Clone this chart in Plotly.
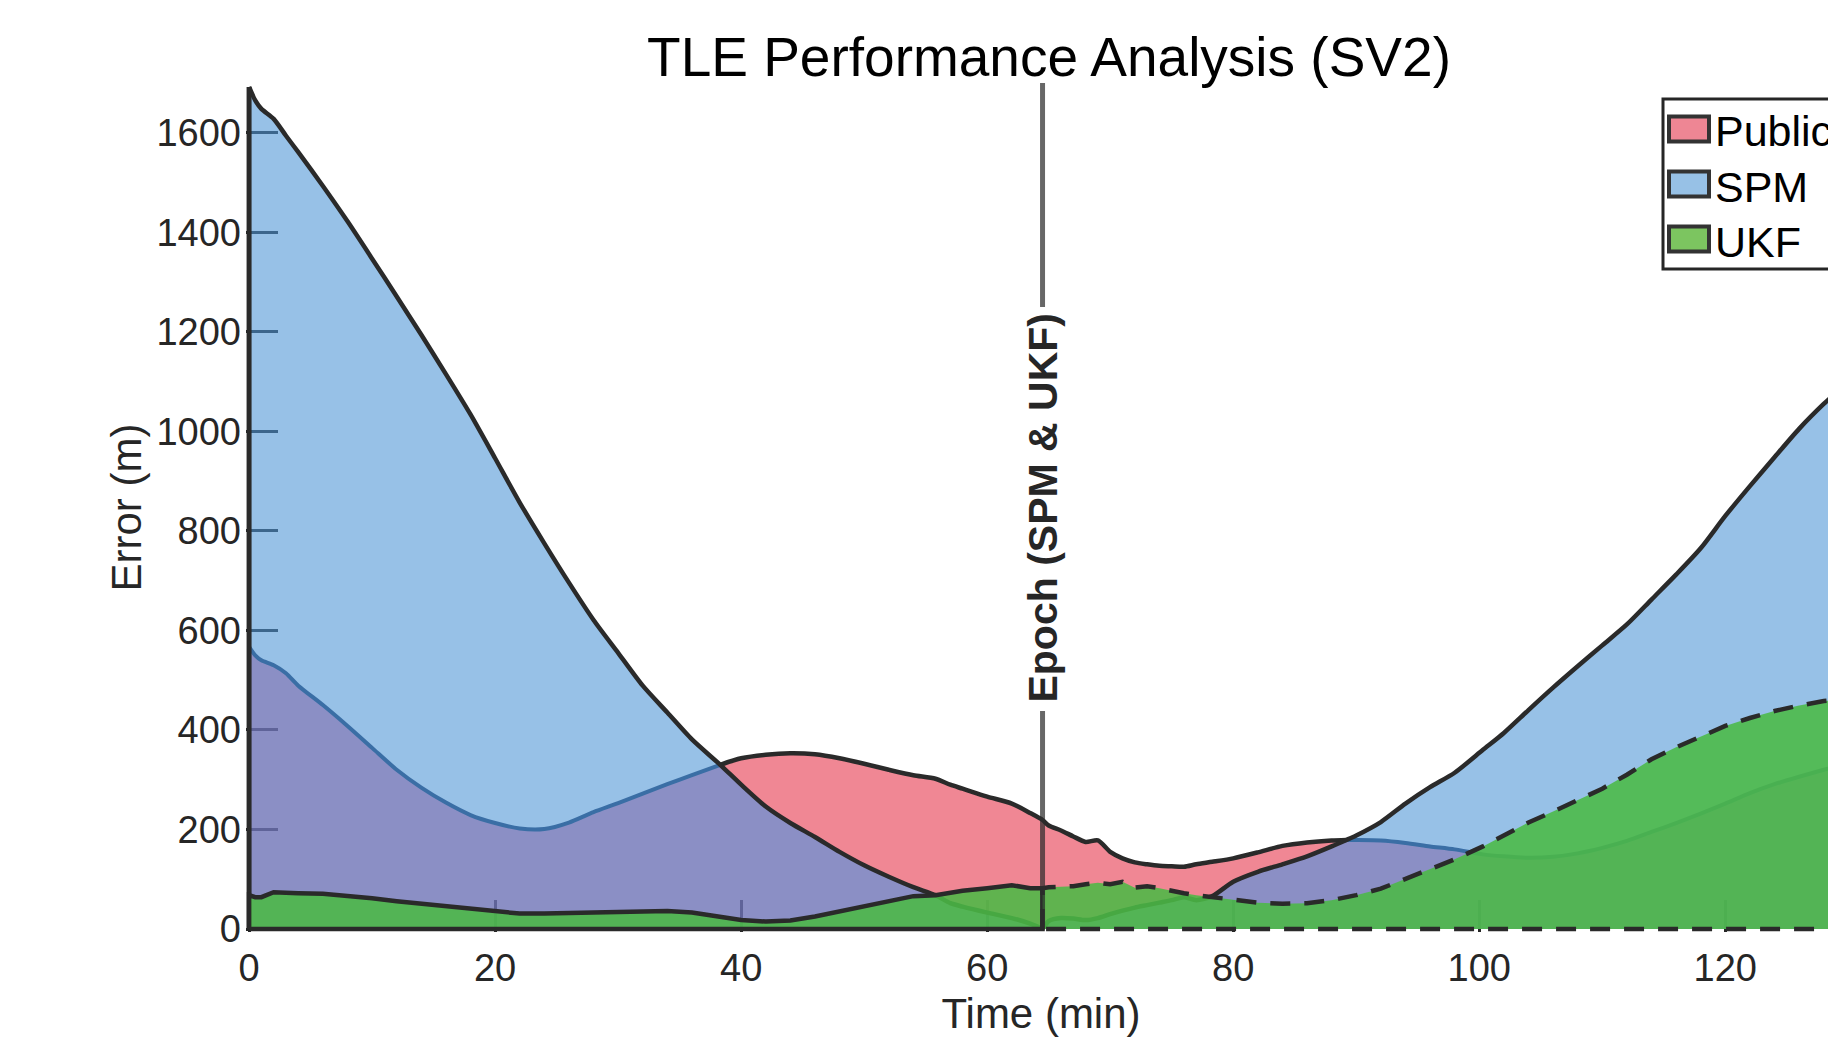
import numpy as np
import plotly.graph_objects as go

# ---------------- data ----------------
TIME = [0, 0.5, 1, 2, 3, 4, 6, 8, 10, 12, 14, 16, 18, 20, 22, 24, 26, 28, 30, 32,
        34, 36, 38.3, 40, 42, 44, 46, 48, 50, 52, 54, 55.8, 57, 58, 60, 62, 63.5, 64.5,
        65, 66, 67, 68, 69, 70, 71, 72, 73, 74, 75, 76, 77, 78.3, 80, 82, 84, 86, 88,
        89.2, 90, 92, 94, 96, 98, 100.3, 102, 104, 106, 108, 110, 112, 114, 116, 118,
        120, 122, 124, 126, 128, 130]
PUBLIC = [567, 550, 540, 530, 514, 489, 450, 408, 364, 320, 284, 254, 229, 213, 202, 201,
          214, 235, 253, 272, 291, 309, 330, 343, 350, 353, 351, 343, 332, 320, 309, 302,
          290, 282, 266, 252, 233, 219,
          208, 198, 186, 175, 178, 155, 142, 134, 130, 127, 126, 125, 130, 135, 142, 154,
          167, 174, 178, 179, 179, 178, 173, 166, 160, 150, 146, 143, 145, 152, 163, 177,
          195, 213, 232, 252, 273, 291, 306, 320, 333]
SPM = [1692, 1665, 1648, 1628, 1594, 1561, 1493, 1422, 1347, 1271, 1194, 1115, 1034, 946,
       857, 775, 696, 621, 555, 489, 435, 381, 330, 290, 246, 213, 185, 155, 128, 105, 84,
       68, 52, 45, 33, 22, 11, 2,
       16, 22, 21, 18, 22, 30, 37, 43, 48, 53, 58, 64, 58, 66, 95, 115, 130, 146, 166,
       179, 188, 215, 252, 285, 314, 360, 394, 440, 485, 528, 570, 612, 662, 712, 765,
       830, 890, 948, 1005, 1055, 1100]
UKF = [68, 64, 64, 74, 72, 72, 71, 67, 62, 56, 51, 46, 40, 34, 31, 31, 32, 34, 36, 37,
       36, 33, 24, 18, 15, 17, 25, 35, 46, 57, 66, 68, 73, 77, 82, 88, 82, 82,
       84, 85, 86, 90, 93, 90, 95, 83, 86, 82, 76, 72, 68, 64, 58, 53, 51, 52, 58,
       63, 68, 81, 100, 120, 140, 166, 189, 214, 236, 259, 282, 310, 341, 365, 386,
       408, 424, 438, 449, 458, 462]
EPOCH_MIN = 64.5
EPOCH_LABEL = "Epoch (SPM & UKF)"
X_TICKS = [0, 20, 40, 60, 80, 100, 120]
Y_TICKS = [0, 200, 400, 600, 800, 1000, 1200, 1400, 1600]
LEGEND_NAMES = ["Public", "SPM", "UKF"]

# ---------------- styling / geometry ----------------
OFF = 8                      # page body margin of the html page
W, H = 1836 - OFF, 1037 - OFF
ML, MR, MT, MB = 238, 0, 75, 105
X_RANGE = [-0.25, 129.0]
Y_RANGE = [-6, 1700]
FONT = "Liberation Sans, Arial, Helvetica, sans-serif"
INK = "#262626"
EDGE = "#2a2a2a"
DARK_BLUE_LINE = "#3a6ea5"
BLUE_FILL = "rgba(76,148,214,0.58)"
PURPLE_FILL = "rgba(110,115,183,0.80)"
PINK_FILL = "rgba(236,105,121,0.80)"
GREEN_FILL = "rgba(75,186,69,0.88)"
LEG_COLORS = ["#ee8694", "#97c1e6", "#7cc560"]
SMOOTH = dict(shape="spline", smoothing=0.7)

t = np.array(TIME, dtype=float)
p = np.array(PUBLIC, dtype=float)
s = np.array(SPM, dtype=float)
u = np.array(UKF, dtype=float)
m = np.minimum(p, s)          # overlap of Public and SPM areas

fig = go.Figure()
nol = dict(width=0, **SMOOTH)

# overlap region (purple)
fig.add_trace(go.Scatter(x=t, y=m, mode="lines", line=nol, fill="tozeroy",
                         fillcolor=PURPLE_FILL, hoverinfo="skip", showlegend=False))
# SPM only (blue)
fig.add_trace(go.Scatter(x=t, y=m, mode="lines", line=nol, hoverinfo="skip", showlegend=False))
fig.add_trace(go.Scatter(x=t, y=s, mode="lines", line=nol, fill="tonexty",
                         fillcolor=BLUE_FILL, name="SPM", showlegend=False))
# Public only (pink)
fig.add_trace(go.Scatter(x=t, y=m, mode="lines", line=nol, hoverinfo="skip", showlegend=False))
fig.add_trace(go.Scatter(x=t, y=p, mode="lines", line=nol, fill="tonexty",
                         fillcolor=PINK_FILL, name="Public", showlegend=False))

# Public edge: seen through the SPM face where it lies below SPM
p_under = np.where(p <= s, p, np.nan)
p_over = np.where(p >= s, p, np.nan)
fig.add_trace(go.Scatter(x=t, y=p_under, mode="lines",
                         line=dict(color=DARK_BLUE_LINE, width=4, **SMOOTH), showlegend=False))
fig.add_trace(go.Scatter(x=t, y=p_over, mode="lines",
                         line=dict(color=EDGE, width=4.5, **SMOOTH), showlegend=False))
# SPM edge and the left side of the area
fig.add_trace(go.Scatter(x=t, y=s, mode="lines",
                         line=dict(color=EDGE, width=4.5, **SMOOTH), showlegend=False))
fig.add_trace(go.Scatter(x=[t[0], t[0]], y=[0, s[0]], mode="lines",
                         line=dict(color=EDGE, width=5), showlegend=False))

# UKF before epoch (solid edge) and after epoch (dashed edge)
pre = t <= EPOCH_MIN
post = t >= EPOCH_MIN
tp, up = t[pre], u[pre]
fig.add_trace(go.Scatter(
    x=np.concatenate([[tp[0]], tp, [tp[-1], tp[0]]]),
    y=np.concatenate([[0], up, [0, 0]]),
    mode="lines", fill="toself", fillcolor=GREEN_FILL,
    line=dict(color=EDGE, width=4.5), name="UKF", showlegend=False))
tq, uq = t[post], u[post]
fig.add_trace(go.Scatter(
    x=np.concatenate([[tq[0]], tq, [tq[-1], tq[0]]]),
    y=np.concatenate([[0], uq, [0, 0]]),
    mode="lines", fill="toself", fillcolor=GREEN_FILL,
    line=dict(color=EDGE, width=4.5, dash="20px,14px"), showlegend=False))


def px_x(px):
    """screen pixel -> paper x"""
    return (px - OFF - ML) / (W - ML - MR)


def px_y(py):
    """screen pixel -> paper y"""
    return (H - MB - (py - OFF)) / (H - MT - MB)


shapes = []
ep_col = "rgba(45,45,45,0.72)"
shapes.append(dict(type="line", xref="x", yref="paper", x0=EPOCH_MIN, x1=EPOCH_MIN,
                   y0=px_y(307), y1=1, line=dict(color=ep_col, width=5), layer="above"))
shapes.append(dict(type="line", xref="x", yref="paper", x0=EPOCH_MIN, x1=EPOCH_MIN,
                   y0=px_y(929), y1=px_y(711), line=dict(color=ep_col, width=5), layer="above"))

annotations = [dict(x=EPOCH_MIN, xref="x", y=px_y(508), yref="paper", text=EPOCH_LABEL,
                    textangle=-90, showarrow=False, xanchor="center", yanchor="middle",
                    font=dict(family=FONT, size=41, color=INK, weight="bold"))]

# legend (box cut by the right edge as in the reference)
shapes.append(dict(type="rect", xref="paper", yref="paper", x0=px_x(1663), x1=px_x(1900),
                   y0=px_y(269), y1=px_y(99), line=dict(color=INK, width=3),
                   fillcolor="white", layer="above"))
for i, (name, col) in enumerate(zip(LEGEND_NAMES, LEG_COLORS)):
    yc = 129 + 55 * i
    shapes.append(dict(type="rect", xref="paper", yref="paper", x0=px_x(1669), x1=px_x(1709),
                       y0=px_y(yc + 12.5), y1=px_y(yc - 12.5),
                       line=dict(color="#333333", width=4), fillcolor=col, layer="above"))
    annotations.append(dict(x=px_x(1713), y=px_y(yc + 2.5), xref="paper", yref="paper",
                            text=name, showarrow=False, xanchor="left", yanchor="middle",
                            font=dict(family=FONT, size=43, color="black")))

axis_common = dict(showgrid=False, zeroline=False, showline=False, ticks="inside",
                   ticklen=32, tickwidth=3, tickcolor=INK, layer="below traces",
                   tickfont=dict(family=FONT, size=38, color=INK), automargin=False)

fig.update_layout(
    width=W, height=H, autosize=False,
    margin=dict(l=ML, r=MR, t=MT, b=MB, pad=0),
    paper_bgcolor="white", plot_bgcolor="white",
    showlegend=False,
    title=dict(text="TLE Performance Analysis (SV2)", x=(1049 - OFF) / W, xref="container",
               xanchor="center", y=1 - (56.6 - OFF) / H, yref="container", yanchor="middle",
               font=dict(family=FONT, size=55, color="black")),
    xaxis=dict(range=X_RANGE, tickvals=X_TICKS, ticklabelstandoff=10,
               title=dict(text="Time (min)", standoff=12,
                          font=dict(family=FONT, size=42, color=INK)),
               **axis_common),
    yaxis=dict(range=Y_RANGE, tickvals=Y_TICKS, ticklabelstandoff=4,
               title=dict(text="Error (m)", standoff=1,
                          font=dict(family=FONT, size=42, color=INK)),
               **axis_common),
    shapes=shapes, annotations=annotations,
)

fig.write_html("out.html")
